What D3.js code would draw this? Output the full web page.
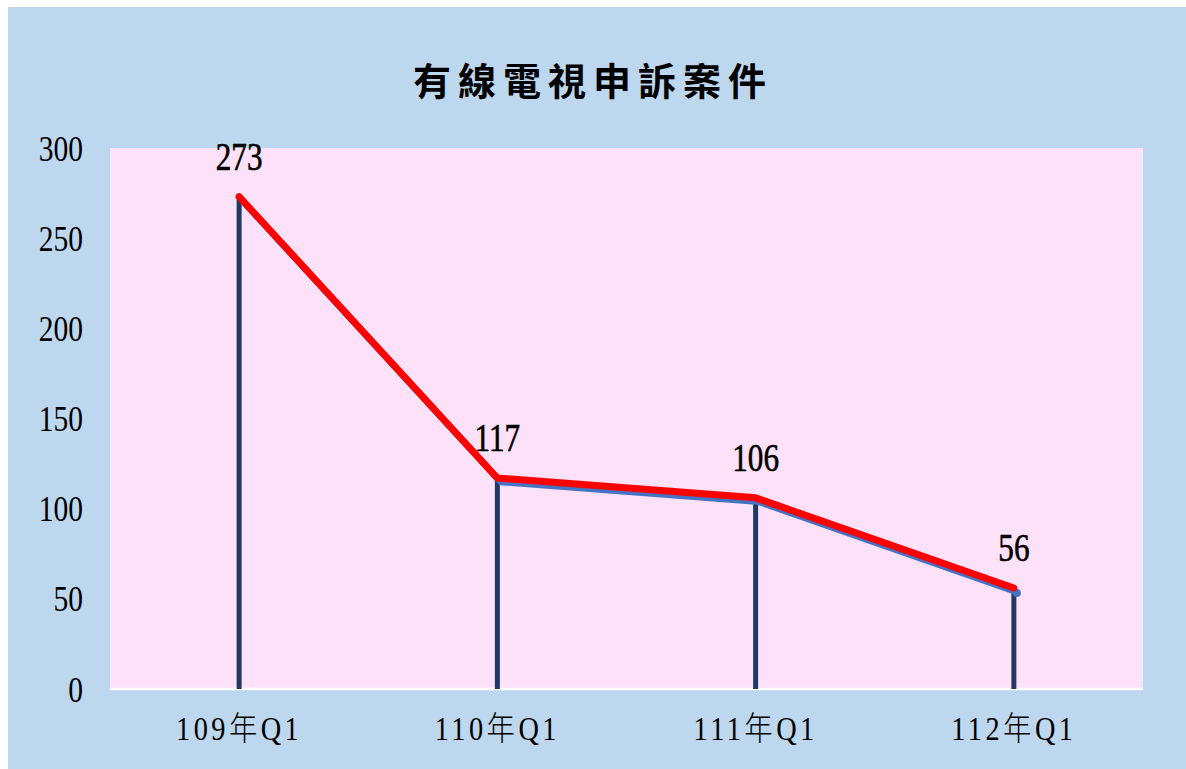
<!DOCTYPE html>
<html><head><meta charset="utf-8">
<script src="https://cdn.jsdelivr.net/npm/d3@7"></script>
<style>
html,body{margin:0;padding:0;background:#fff;}
svg{display:block;}
</style></head>
<body>
<svg id="chart" width="1186" height="769"></svg>
<script>
const categories = ["109年Q1", "110年Q1", "111年Q1", "112年Q1"];
const values = [273, 117, 106, 56];
const yTicks = [0, 50, 100, 150, 200, 250, 300];
const title = "有線電視申訴案件";

const W = 1186, H = 769;
const plot = {left: 110, right: 1143, top: 148, bottom: 689};
const svg = d3.select("#chart");

svg.append("rect").attr("x", 8).attr("y", 7).attr("width", W - 8).attr("height", H - 7).attr("fill", "#BDD7EE");
svg.append("rect").attr("x", plot.left).attr("y", plot.top)
  .attr("width", plot.right - plot.left).attr("height", plot.bottom - plot.top).attr("fill", "#FDE1F8");

const x = d3.scaleBand().domain(categories).range([plot.left, plot.right]);
const y = d3.scaleLinear().domain([0, 300]).range([plot.bottom, plot.top]);
const cx = d => x(d) + x.bandwidth() / 2;

// title
svg.append("text").attr("x", 593).attr("y", 95).attr("text-anchor", "middle")
  .attr("font-family", "'Noto Sans CJK TC','Noto Sans CJK SC',sans-serif")
  .attr("font-weight", 700).attr("font-size", 38).attr("letter-spacing", 7)
  .attr("fill", "#000").text(title);

// y axis labels
const yAxis = d3.axisLeft(y).tickValues(yTicks).tickSize(0).tickPadding(0);
const yg = svg.append("g").attr("transform", `translate(83,0)`).call(yAxis);
yg.select(".domain").remove();
yg.selectAll(".tick text")
  .attr("font-family", "'Liberation Serif',serif").attr("font-size", 36)
  .attr("fill", "#000").attr("text-anchor", "end")
  .attr("dy", null).attr("x", 0).attr("y", 12)
  .attr("transform", "scale(0.82,1)");

// x axis
const xAxis = d3.axisBottom(x).tickSize(0).tickPadding(0);
const xg = svg.append("g").attr("transform", `translate(0,${plot.bottom})`).call(xAxis);
xg.select(".domain").attr("stroke", "#fff").attr("stroke-width", 2.5)
  .attr("d", `M${plot.left},0H${plot.right}`);
xg.selectAll(".tick text")
  .attr("font-family", "'Liberation Serif','Noto Sans CJK TC',serif").attr("font-size", 33)
  .attr("font-weight", 300)
  .attr("letter-spacing", 4).attr("fill", "#000")
  .attr("dy", null).attr("y", 51)
  .attr("transform", "scale(0.86,1)");

// drop lines
svg.append("g").selectAll("line").data(categories).join("line")
  .attr("x1", d => cx(d)).attr("x2", d => cx(d))
  .attr("y1", (d, i) => y(values[i])).attr("y2", plot.bottom)
  .attr("stroke", "#1F3864").attr("stroke-width", 5);

const line = d3.line().x((d, i) => cx(categories[i])).y(d => y(d));

// blue shadow line
const sh = svg.append("g").attr("transform", "translate(3,5)");
sh.append("path").datum(values).attr("d", line).attr("fill", "none")
  .attr("stroke", "#4472C4").attr("stroke-width", 4.5).attr("stroke-linejoin", "round");
sh.append("circle").attr("cx", cx(categories[3])).attr("cy", y(values[3])).attr("r", 4).attr("fill", "#4472C4");

// red line
svg.append("path").datum(values).attr("d", line).attr("fill", "none")
  .attr("stroke", "#FF0000").attr("stroke-width", 7)
  .attr("stroke-linejoin", "round").attr("stroke-linecap", "round");

// data labels
svg.append("g").selectAll("text").data(values).join("text")
  .attr("transform", (d, i) => `translate(${cx(categories[i])},${y(d) - 27}) scale(0.8,1)`)
  .attr("text-anchor", "middle")
  .attr("font-family", "'Liberation Serif',serif").attr("font-size", 39)
  .attr("fill", "#000").attr("stroke", "#000").attr("stroke-width", 0.6)
  .text(d => d);
</script>
</body></html>
